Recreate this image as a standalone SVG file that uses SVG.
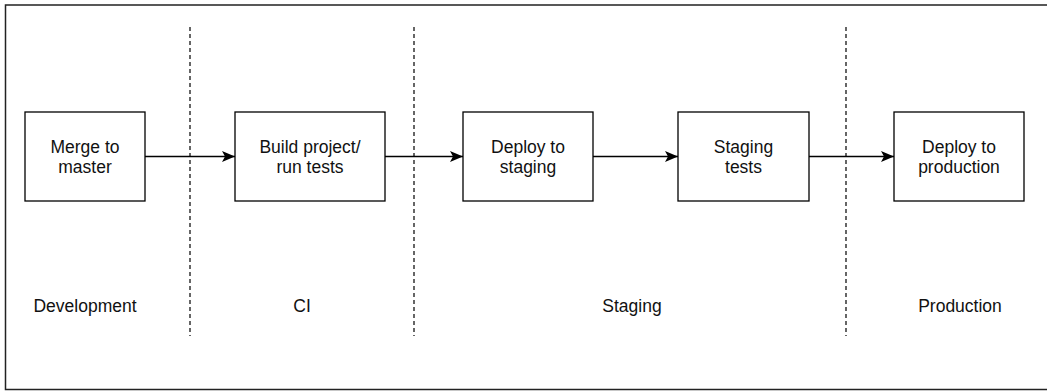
<svg xmlns="http://www.w3.org/2000/svg" width="1047" height="391" viewBox="0 0 1047 391">
<style>
.box{fill:#fff;stroke:#000;stroke-width:1.3}
.t{font-family:"Liberation Sans",Arial,sans-serif;font-size:17.5px;fill:#111;text-anchor:middle}
.dash{stroke:#000;stroke-width:1.2;stroke-dasharray:4 3;fill:none}
.edge{stroke:#000;stroke-width:1.3;fill:none;marker-end:url(#ah)}
</style>
<defs>
<marker id="ah" viewBox="0 0 13 11" refX="13" refY="5.5" markerWidth="13" markerHeight="11" markerUnits="userSpaceOnUse" orient="auto">
<path d="M0,0 L13,5.5 L0,11 L3,5.5 Z" fill="#000"/>
</marker>
</defs>
<rect width="1047" height="391" fill="#fff"/>
<rect id="frame" x="5.5" y="5" width="1050" height="384.5" fill="none" stroke="#222" stroke-width="1.5"/>
<g id="dividers">
<line class="dash" x1="190" y1="27" x2="190" y2="336"/>
<line class="dash" x1="414" y1="27" x2="414" y2="336"/>
<line class="dash" x1="846" y1="27" x2="846" y2="336"/>
</g>
<g id="connectors">
<line class="edge" x1="145" y1="156.5" x2="235" y2="156.5"/>
<line class="edge" x1="385" y1="156.5" x2="463" y2="156.5"/>
<line class="edge" x1="593" y1="156.5" x2="678" y2="156.5"/>
<line class="edge" x1="809" y1="156.5" x2="894" y2="156.5"/>
</g>
<g id="merge">
<rect class="box" x="25" y="112" width="120" height="89"/>
<text class="t" x="85" y="153">Merge to</text>
<text class="t" x="85" y="173">master</text>
</g>
<g id="build">
<rect class="box" x="235" y="112" width="150" height="89"/>
<text class="t" x="310" y="153">Build project/</text>
<text class="t" x="310" y="173">run tests</text>
</g>
<g id="deploy-staging">
<rect class="box" x="463" y="112" width="130" height="89"/>
<text class="t" x="528" y="153">Deploy to</text>
<text class="t" x="528" y="173">staging</text>
</g>
<g id="staging-tests">
<rect class="box" x="678" y="112" width="131" height="89"/>
<text class="t" x="743.5" y="153">Staging</text>
<text class="t" x="743.5" y="173">tests</text>
</g>
<g id="deploy-production">
<rect class="box" x="894" y="112" width="130" height="89"/>
<text class="t" x="959" y="153">Deploy to</text>
<text class="t" x="959" y="173">production</text>
</g>
<g id="labels">
<text class="t" x="85" y="312">Development</text>
<text class="t" x="302" y="312">CI</text>
<text class="t" x="632" y="312">Staging</text>
<text class="t" x="960" y="312">Production</text>
</g>
</svg>
